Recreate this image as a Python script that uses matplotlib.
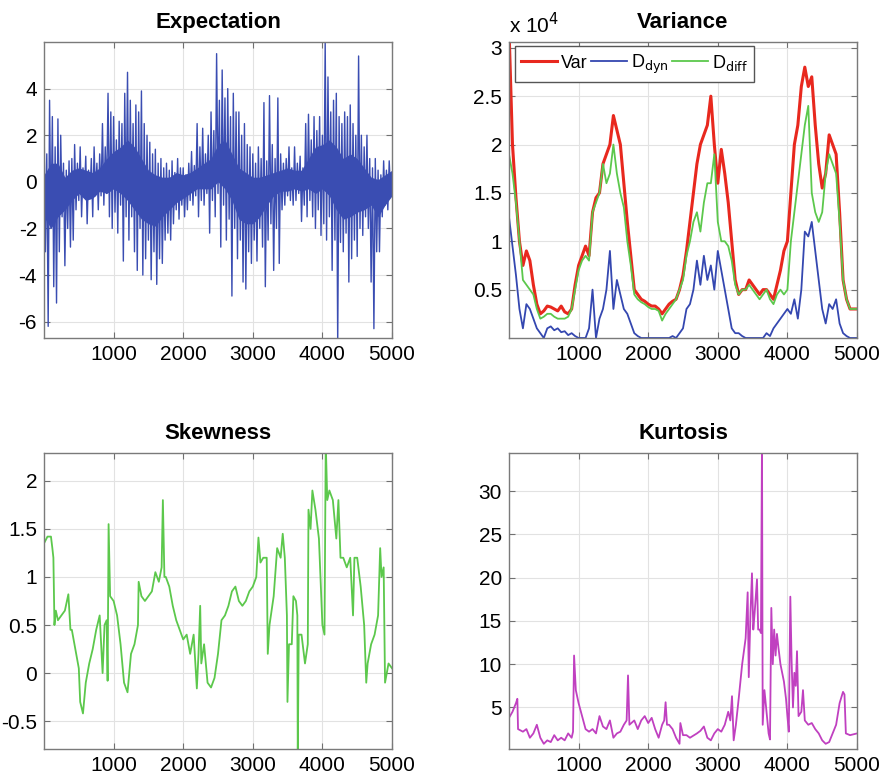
import matplotlib
matplotlib.use("Agg")
import matplotlib.pyplot as plt
import numpy as np

plt.rcParams['font.family'] = ['Liberation Sans', 'DejaVu Sans']
plt.rcParams['axes.unicode_minus'] = False

# Expectation: abwechselnd obere und untere Ausschläge, alle 20 Samples
exp_hi = [2.8, 1.2, 3.5, 2.8, 1.5, 2.7, 2.0, 0.8, 0.5, 0.9,
          1.0, 1.6, 0.8, 1.5, 0.6, 1.1, 0.5, 1.0, 1.5, 0.8,
          1.2, 2.5, 1.5, 3.8, 3.0, 2.8, 1.8, 2.6, 2.5, 3.8,
          4.7, 3.5, 2.5, 3.3, 3.0, 3.9, 2.5, 2.0, 1.7, 1.2,
          1.4, 0.8, 1.0, 0.6, 0.8, 0.5, 0.9, 0.4, 1.0, 0.6,
          0.6, 0.3, 0.8, 1.3, 0.7, 2.5, 1.5, 2.3, 1.2, 2.0,
          3.0, 2.2, 5.5, 3.5, 4.8, 3.6, 4.0, 2.8, 3.8, 3.0,
          3.0, 2.0, 2.5, 1.6, 1.5, 1.2, 0.8, 1.5, 1.0, 3.4,
          0.9, 3.7, 1.6, 1.0, 3.6, 1.2, 0.8, 1.0, 1.5, 0.6,
          1.5, 0.8, 1.1, 0.6, 2.5, 2.9, 1.8, 2.8, 2.2, 2.8,
          2.0, 6.0, 4.5, 3.0, 3.5, 3.8, 2.8, 2.5, 3.0, 2.8,
          3.3, 2.5, 2.0, 5.4, 2.0, 1.5, 2.0, 1.0, 0.6, 1.0,
          0.5, 0.3, 0.9, 0.5, 0.9]
exp_lo = [-3.0, -6.2, -2.0, -4.5, -5.2, -3.0, -1.5, -3.6, -2.0, -2.8,
          -2.5, -1.2, -0.8, -1.5, -0.5, -1.8, -0.7, -1.5, -0.6, -1.2,
          -0.6, -1.0, -0.5, -1.5, -2.0, -1.3, -2.2, -1.0, -3.4, -1.5,
          -2.5, -1.5, -3.0, -3.8, -2.0, -4.0, -3.3, -2.5, -4.2, -3.0,
          -4.4, -3.3, -3.5, -2.5, -2.2, -2.5, -1.8, -1.2, -1.6, -1.0,
          -1.5, -1.2, -0.8, -1.0, -0.6, -1.5, -0.8, -1.0, -0.5, -2.2,
          -0.8, -1.5, -0.5, -2.8, -1.0, -2.5, -1.6, -4.9, -2.0, -3.3,
          -2.5, -4.3, -4.6, -3.0, -3.5, -2.5, -3.4, -2.0, -2.8, -4.5,
          -2.5, -1.8, -3.8, -2.0, -3.5, -1.2, -1.0, -0.6, -0.8, -1.0,
          -0.8, -0.5, -1.7, -1.0, -1.5, -0.8, -1.5, -2.0, -1.2, -2.3,
          -1.8, -2.5, -1.5, -3.8, -2.5, -7.0, -2.6, -3.0, -2.2, -4.3,
          -3.3, -2.5, -3.2, -2.0, -2.3, -1.5, -2.0, -4.3, -6.3, -3.0,
          -3.0, -1.5, -1.0, -1.2, -0.5]
# dichter Kern des Rauschens, alle 100 Samples
core_hi = [0.3, 0.8, 0.8, 0.2, 0.5, 0.6, 0.5, 0.4, 0.6, 1.0,
           1.3, 1.5, 1.8, 1.5, 1.0, 0.5, 0.3, 0.2, 0.2, 0.4,
           0.3, 0.4, 0.6, 0.8, 1.0, 1.6, 1.8, 1.2, 0.6, 0.4,
           0.2, 0.2, 0.3, 0.4, 0.5, 0.6, 0.5, 0.5, 1.0, 1.5,
           1.6, 1.8, 1.5, 1.0, 1.2, 1.0, 0.6, 0.2, 0.1, 0.3,
           0.5]
core_lo = [-1.5, -2.0, -1.5, -1.2, -0.8, -0.5, -0.8, -0.7, -0.4, -0.5,
           -0.3, -0.5, -0.8, -1.2, -1.6, -1.8, -1.9, -1.5, -1.2, -0.9,
           -0.7, -0.5, -0.3, -0.3, -0.3, 0.0, -0.3, -0.8, -1.6, -1.8,
           -1.8, -1.5, -1.0, -0.6, -0.4, -0.4, -0.3, -0.4, -0.3, -0.5,
           -0.3, -0.6, -1.2, -1.6, -1.5, -1.3, -1.2, -1.0, -1.5, -1.0,
           -0.6]

# Variance (Einheit 1e4), alle 50 Samples
var_red = [3.2, 2.0, 1.45, 1.0, 0.75, 0.9, 0.8, 0.55, 0.35, 0.25,
           0.28, 0.33, 0.32, 0.3, 0.28, 0.33, 0.27, 0.25, 0.3, 0.55,
           0.75, 0.85, 0.95, 0.85, 1.3, 1.45, 1.5, 1.8, 1.9, 2.0,
           2.3, 2.15, 2.0, 1.6, 1.2, 0.85, 0.5, 0.45, 0.4, 0.38,
           0.35, 0.33, 0.33, 0.3, 0.25, 0.3, 0.35, 0.38, 0.4, 0.5,
           0.65, 0.9, 1.2, 1.5, 1.8, 2.0, 2.1, 2.2, 2.5, 2.0,
           1.6, 1.95, 1.7, 1.4, 1.0, 0.6, 0.45, 0.5, 0.5, 0.6,
           0.55, 0.5, 0.45, 0.5, 0.5, 0.45, 0.4, 0.55, 0.7, 0.9,
           1.0, 1.5, 2.0, 2.2, 2.6, 2.8, 2.6, 2.7, 2.2, 1.8,
           1.55, 1.7, 2.1, 2.0, 1.9, 1.3, 0.6, 0.4, 0.3, 0.3,
           0.3]
d_diff = [1.9, 1.7, 1.4, 1.0, 0.6, 0.55, 0.5, 0.45, 0.3, 0.2,
          0.22, 0.25, 0.25, 0.22, 0.2, 0.2, 0.2, 0.22, 0.3, 0.5,
          0.7, 0.8, 0.85, 0.8, 1.3, 1.4, 1.5, 1.8, 1.6, 1.7,
          2.0, 1.7, 1.5, 1.35, 1.0, 0.75, 0.45, 0.4, 0.37, 0.35,
          0.32, 0.3, 0.3, 0.28, 0.18, 0.25, 0.3, 0.35, 0.4, 0.5,
          0.6, 0.85, 1.0, 1.2, 1.3, 1.1, 1.4, 1.6, 1.6, 1.9,
          1.2, 1.0, 1.0, 0.95, 0.8, 0.55, 0.45, 0.5, 0.5, 0.55,
          0.5, 0.45, 0.4, 0.45, 0.5, 0.4, 0.35, 0.45, 0.5, 0.45,
          0.5, 1.0, 1.3, 1.6, 1.9, 2.2, 2.4, 1.5, 1.3, 1.2,
          1.3, 1.7, 1.9, 1.8, 1.7, 1.2, 0.6, 0.4, 0.3, 0.3,
          0.3]
d_dyn = [1.25, 0.95, 0.65, 0.3, 0.1, 0.35, 0.3, 0.2, 0.1, 0.05,
         0.0, 0.1, 0.12, 0.08, 0.1, 0.06, 0.07, 0.03, 0.05, 0.02,
         0.0, 0.0, 0.0, 0.1, 0.5, 0.0, 0.2, 0.3, 0.5, 0.9,
         0.3, 0.6, 0.45, 0.3, 0.25, 0.15, 0.05, 0.02, 0.0, 0.0,
         0.0, 0.0, 0.0, 0.0, 0.0, 0.0, 0.0, 0.02, 0.0, 0.05,
         0.1, 0.3, 0.35, 0.5, 0.8, 0.55, 0.85, 0.6, 0.75, 0.5,
         0.9, 0.7, 0.5, 0.3, 0.1, 0.05, 0.05, 0.02, 0.0, 0.0,
         0.0, 0.0, 0.0, 0.0, 0.05, 0.02, 0.1, 0.15, 0.2, 0.25,
         0.3, 0.25, 0.4, 0.2, 0.5, 1.1, 1.05, 1.2, 0.9, 0.6,
         0.3, 0.15, 0.35, 0.3, 0.4, 0.15, 0.05, 0.02, 0.0, 0.0,
         0.0]

skew_x = [0, 50, 100, 120, 135, 150, 170, 200, 250, 300,
          350, 380, 400, 450, 500, 520, 560, 600, 650, 700,
          750, 800, 842, 870, 900, 914, 928, 950, 1000, 1050,
          1100, 1150, 1200, 1250, 1300, 1350, 1360, 1400, 1450, 1500,
          1550, 1600, 1650, 1690, 1708, 1730, 1750, 1800, 1850, 1900,
          1950, 2000, 2050, 2100, 2150, 2196, 2220, 2244, 2260, 2300,
          2350, 2400, 2450, 2500, 2550, 2600, 2650, 2700, 2750, 2800,
          2850, 2900, 2950, 3000, 3050, 3081, 3110, 3150, 3200, 3215,
          3240, 3300, 3350, 3400, 3430, 3460, 3490, 3498, 3520, 3560,
          3583, 3620, 3640, 3646, 3660, 3700, 3750, 3790, 3800, 3830,
          3856, 3900, 3950, 4000, 4030, 4048, 4070, 4100, 4150, 4200,
          4230, 4260, 4300, 4350, 4400, 4440, 4460, 4500, 4550, 4600,
          4630, 4650, 4700, 4750, 4800, 4830, 4850, 4880, 4900, 4950, 5000]
skew_y = [1.35, 1.42, 1.42, 1.3, 1.2, 0.5, 0.65, 0.55, 0.6, 0.65,
          0.82, 0.45, 0.45, 0.25, 0.05, -0.3, -0.42, -0.1, 0.1, 0.25,
          0.45, 0.6, 0.0, 0.5, 0.55, -0.08, 1.55, 0.8, 0.75, 0.6,
          0.3, -0.1, -0.2, 0.2, 0.3, 0.5, 0.95, 0.8, 0.75, 0.8,
          0.85, 1.05, 0.95, 1.1, 1.8, 1.0, 1.0, 0.9, 0.7, 0.55,
          0.45, 0.35, 0.4, 0.2, 0.4, -0.16, 0.2, 0.7, 0.1, 0.3,
          -0.1, -0.15, -0.05, 0.2, 0.55, 0.6, 0.7, 0.85, 0.9, 0.75,
          0.7, 0.75, 0.85, 0.9, 1.0, 1.41, 1.15, 1.2, 1.2, 0.2,
          0.5, 0.8, 1.3, 1.2, 1.45, 1.2, 0.6, -0.3, 0.3, 0.3,
          0.8, 0.75, 0.6, -0.9, 0.4, 0.4, 0.1, 0.3, 1.7, 1.5,
          1.9, 1.7, 1.4, 0.5, 0.4, 2.4, 1.8, 1.9, 1.8, 1.4,
          1.8, 1.2, 1.2, 1.1, 1.2, 0.6, 1.2, 1.2, 0.9, 0.5,
          -0.1, 0.1, 0.3, 0.4, 0.6, 1.3, 1.0, 1.1, -0.1, 0.1, 0.05]

kurt_x = [0, 50, 100, 120, 130, 200, 250, 300, 350, 400,
          450, 500, 550, 600, 650, 700, 750, 800, 850, 900,
          920, 935, 960, 1000, 1050, 1100, 1150, 1200, 1250, 1300,
          1350, 1400, 1450, 1500, 1550, 1600, 1650, 1690, 1710, 1730,
          1800, 1850, 1900, 1950, 2000, 2050, 2100, 2150, 2200, 2230,
          2250, 2270, 2300, 2350, 2400, 2450, 2462, 2500, 2550, 2600,
          2700, 2750, 2800, 2850, 2900, 2950, 3000, 3050, 3100, 3150,
          3180, 3204, 3228, 3260, 3300, 3350, 3400, 3429, 3445, 3470,
          3491, 3510, 3530, 3563, 3580, 3600, 3620, 3635, 3645, 3670,
          3700, 3730, 3750, 3769, 3790, 3810, 3830, 3850, 3870, 3900,
          3950, 3980, 4000, 4020, 4042, 4060, 4080, 4100, 4120, 4138,
          4160, 4200, 4224, 4250, 4300, 4350, 4400, 4450, 4500, 4550,
          4600, 4650, 4700, 4750, 4799, 4820, 4840, 4900, 5000]
kurt_y = [3.8, 4.5, 5.5, 6.0, 2.5, 2.2, 2.5, 1.5, 2.0, 3.0,
          1.5, 0.8, 1.2, 1.0, 1.8, 1.2, 1.5, 1.2, 2.0, 1.5,
          2.2, 11.0, 7.0, 5.5, 4.0, 2.5, 2.2, 2.5, 2.0, 4.0,
          2.8, 2.5, 3.5, 1.5, 2.0, 2.2, 3.0, 3.5, 8.7, 3.0,
          3.5, 2.5, 3.5, 4.0, 3.2, 3.8, 2.5, 1.5, 3.0, 3.5,
          5.6, 3.0, 3.0, 2.5, 1.5, 0.8, 3.2, 1.8, 1.8, 1.5,
          2.0, 2.3, 2.8, 1.5, 1.2, 2.0, 2.5, 2.2, 3.0, 4.5,
          3.5, 6.3, 1.2, 3.0, 6.0, 10.0, 13.0, 18.3, 8.5, 16.0,
          20.5, 14.0, 16.0, 19.8, 14.0, 14.0, 13.6, 36.0, 3.0, 7.0,
          4.5, 2.0, 1.3, 16.5, 10.0, 14.0, 11.0, 13.5, 12.0, 10.0,
          8.0, 6.0, 4.0, 2.2, 17.8, 10.5, 5.0, 9.0, 7.5, 11.5,
          4.0, 4.5, 7.0, 3.5, 3.0, 3.2, 2.5, 2.0, 1.2, 0.8,
          1.0, 2.0, 3.0, 5.5, 6.8, 6.5, 2.0, 1.8, 2.0]

exp_y = np.column_stack([exp_hi, exp_lo]).ravel()
exp_x = np.arange(len(exp_y)) * 20
core_x = np.arange(len(core_hi)) * 100
var_x = np.arange(len(var_red)) * 50

blau = "#3a4db2"

fig = plt.figure(figsize=(8.87, 7.82), dpi=100)
W, H = 887, 782
def achse(l, t, r, b):
    return fig.add_axes([l / W, 1 - b / H, (r - l) / W, (b - t) / H])

ax1 = achse(44, 42, 392, 338)
ax2 = achse(509, 42, 857, 338)
ax3 = achse(44, 453, 392, 749)
ax4 = achse(509, 453, 857, 749)

ax1.fill_between(core_x, core_lo, core_hi, color=blau, lw=0)
ax1.plot(exp_x, exp_y, color=blau, lw=1.0)
ax1.set_ylim(-6.7, 6.0)
ax1.set_yticks([-6, -4, -2, 0, 2, 4])
ax1.set_title("Expectation")

ax2.plot(var_x, var_red, color="#e8281e", lw=2.2, label="Var")
ax2.plot(var_x, d_dyn, color="#3447b0", lw=1.3, label=r"D$_{\mathrm{dyn}}$")
ax2.plot(var_x, d_diff, color="#5cc84c", lw=1.3, label=r"D$_{\mathrm{diff}}$")
ax2.set_ylim(0, 3.06)
ax2.set_yticks([0.5, 1, 1.5, 2, 2.5, 3])
ax2.set_yticklabels(["0.5", "1", "1.5", "2", "2.5", "3"])
ax2.set_title("Variance")
ax2.text(0.0, 1.015, r"x 10$^4$", transform=ax2.transAxes, fontsize=15,
         ha="left", va="bottom")
ax2.legend(loc="upper left", ncol=3, fontsize=13, frameon=True, fancybox=False,
           edgecolor="#555555", framealpha=1, handlelength=2.0, columnspacing=0.2,
           handletextpad=0.2, borderpad=0.35, borderaxespad=0,
           bbox_to_anchor=(0.017, 0.986))

ax3.plot(skew_x, skew_y, color="#5cc84c", lw=1.3)
ax3.set_ylim(-0.79, 2.29)
ax3.set_yticks([-0.5, 0, 0.5, 1, 1.5, 2])
ax3.set_yticklabels(["-0.5", "0", "0.5", "1", "1.5", "2"])
ax3.set_title("Skewness")

ax4.plot(kurt_x, kurt_y, color="#c040c0", lw=1.3)
ax4.set_ylim(0.2, 34.4)
ax4.set_yticks([5, 10, 15, 20, 25, 30])
ax4.set_title("Kurtosis")

for ax in (ax1, ax2, ax3, ax4):
    ax.set_xlim(0, 5000)
    ax.set_xticks([1000, 2000, 3000, 4000, 5000])
    ax.grid(True, color="#e2e2e2", lw=0.8)
    ax.set_axisbelow(True)
    ax.tick_params(direction="in", top=True, right=True, length=4,
                   labelsize=15, color="#707070", pad=5)
    for s in ax.spines.values():
        s.set_color("#7a7a7a")
        s.set_linewidth(1.0)
    ax.set_title(ax.get_title(), fontsize=16, fontweight="bold", pad=10)

fig.savefig("out.png", dpi=100)
